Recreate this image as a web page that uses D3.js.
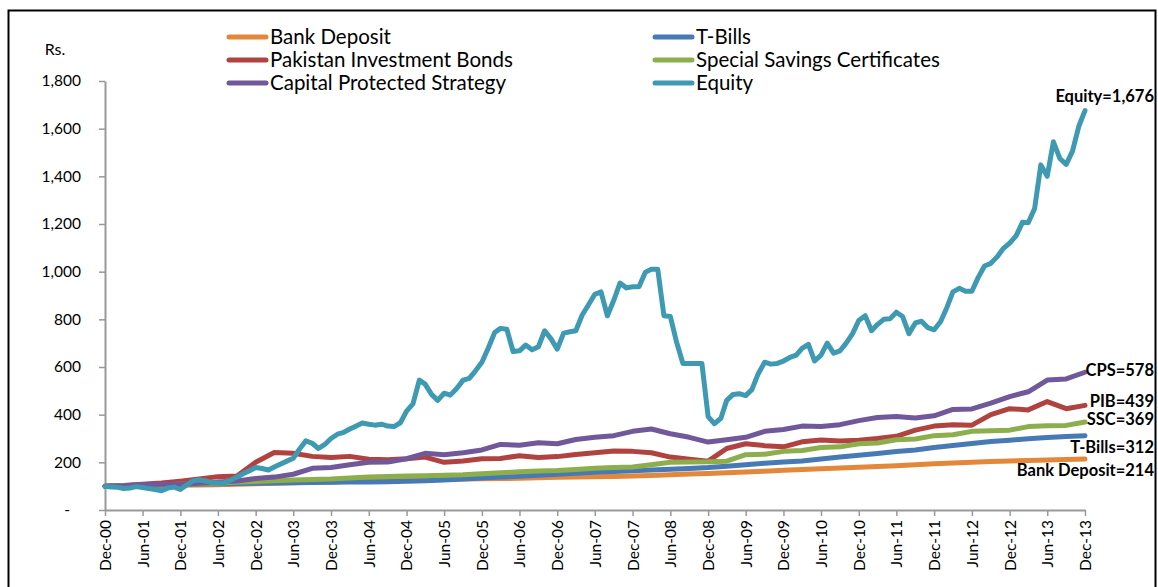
<!DOCTYPE html>
<html>
<head>
<meta charset="utf-8">
<script src="https://cdn.jsdelivr.net/npm/d3@7"></script>
<style>
  body { margin: 0; background: #fff; }
  svg { display: block; font-family: Lato, "Open Sans", sans-serif; }
</style>
</head>
<body>
<svg width="1158" height="587"></svg>
<script>
// months are counted from Dec-00; equity is monthly, the other series quarterly
const startDate = new Date(2000, 11, 1);
const monthDates = d3.range(157).map(i => d3.timeMonth.offset(startDate, i));
const quarterDates = d3.range(0, 157, 3).map(i => d3.timeMonth.offset(startDate, i));
const tickDates = d3.range(0, 157, 6).map(i => d3.timeMonth.offset(startDate, i));
const yTicks = [0, 200, 400, 600, 800, 1000, 1200, 1400, 1600, 1800];

const bankDeposit = [100, 101, 102, 103, 104, 105, 106, 108, 110, 112, 114, 116, 118, 121, 123, 124, 125, 126,
  128, 130, 131, 132, 133, 135, 137, 138, 140, 141, 143, 145, 148, 151, 153, 156, 159, 163, 167, 170, 173,
  176, 179, 182, 186, 190, 194, 197, 200, 203, 206, 208, 210, 212, 214];
const tBills = [100, 102, 104, 105, 107, 109, 110, 111, 112, 113, 114, 115, 116, 117, 118, 119, 121, 123,
  126, 130, 134, 138, 142, 146, 150, 154, 158, 162, 165, 168, 171, 174, 178, 184, 190, 196, 201, 206, 214,
  222, 230, 237, 245, 252, 262, 271, 279, 287, 293, 299, 304, 308, 312];
const pib = [100, 103, 108, 113, 121, 130, 140, 143, 200, 241, 238, 225, 220, 225, 213, 211, 215, 222,
  200, 206, 215, 216, 228, 220, 224, 233, 240, 248, 246, 240, 222, 213, 205, 258, 278, 270, 265, 286, 294,
  290, 293, 300, 309, 335, 352, 358, 356, 400, 425, 420, 455, 425, 439];
const ssc = [100, 102, 104, 106, 108, 110, 113, 116, 120, 123, 126, 128, 130, 134, 138, 141, 143, 144,
  146, 148, 152, 156, 160, 164, 166, 170, 175, 178, 180, 190, 200, 201, 202, 205, 232, 234, 246, 250, 262,
  265, 278, 281, 295, 298, 312, 316, 330, 333, 335, 350, 353, 355, 369];
const cps = [100, 102, 107, 108, 108, 112, 117, 122, 132, 138, 150, 175, 178, 190, 200, 201, 215, 238,
  232, 240, 252, 275, 272, 282, 278, 296, 305, 312, 330, 340, 320, 305, 285, 295, 305, 330, 338, 352, 350,
  358, 375, 388, 392, 386, 395, 422, 424, 448, 476, 496, 545, 550, 578];
const equity = [100, 96, 95, 90, 92, 98, 94, 90, 86, 81, 92, 96, 86, 105, 123, 127, 122, 115, 113, 114,
  125, 138, 152, 165, 178, 174, 168, 180, 193, 205, 217, 255, 290, 280, 258, 275, 300, 318, 326, 340,
  352, 365, 360, 356, 360, 352, 350, 366, 415, 445, 545, 528, 485, 460, 490, 482, 510, 545, 552, 585,
  620, 680, 745, 762, 758, 665, 668, 692, 672, 685, 752, 718, 675, 742, 748, 752, 818, 860, 905, 915,
  815, 880, 952, 932, 937, 937, 998, 1010, 1010, 815, 812, 705, 615, 615, 615, 615, 392, 362, 385, 460,
  485, 488, 480, 505, 572, 620, 612, 615, 625, 640, 650, 678, 695, 625, 650, 700, 658, 668, 700, 740,
  795, 815, 752, 778, 800, 802, 830, 812, 740, 785, 792, 765, 756, 790, 850, 915, 930, 918, 918, 975,
  1024, 1035, 1062, 1098, 1120, 1150, 1207, 1205, 1265, 1448, 1400, 1545, 1475, 1450, 1505, 1610, 1676];

const seriesNames = ['Bank Deposit', 'T-Bills', 'Pakistan Investment Bonds',
  'Special Savings Certificates', 'Capital Protected Strategy', 'Equity'];
const endLabels = ['Bank Deposit=214', 'T-Bills=312', 'PIB=439', 'SSC=369', 'CPS=578', 'Equity=1,676'];
const colors = ['#E3883A', '#4779B5', '#B0423F', '#8DAE4C', '#71589A', '#3E9AB3'];

const series = [
  { name: seriesNames[0], dates: quarterDates, values: bankDeposit, color: colors[0], label: endLabels[0], ly: 470 },
  { name: seriesNames[1], dates: quarterDates, values: tBills, color: colors[1], label: endLabels[1], ly: 447 },
  { name: seriesNames[2], dates: quarterDates, values: pib, color: colors[2], label: endLabels[2], ly: 401 },
  { name: seriesNames[3], dates: quarterDates, values: ssc, color: colors[3], label: endLabels[3], ly: 419 },
  { name: seriesNames[4], dates: quarterDates, values: cps, color: colors[4], label: endLabels[4], ly: 370 },
  { name: seriesNames[5], dates: monthDates, values: equity, color: colors[5], label: endLabels[5], ly: 96 }
];

const svg = d3.select('svg');

// outer frame of the chart
svg.append('rect')
  .attr('x', 8.5).attr('y', 10.5)
  .attr('width', 1147).attr('height', 590)
  .attr('fill', 'none').attr('stroke', '#000').attr('stroke-width', 2);

const x = d3.scaleTime()
  .domain([startDate, monthDates[monthDates.length - 1]])
  .range([105, 1085]);
const y = d3.scaleLinear().domain([0, 1800]).range([510, 81]);

// y axis
const yAxis = svg.append('g')
  .attr('transform', 'translate(105,0)')
  .call(d3.axisLeft(y).tickValues(yTicks).tickSize(6).tickSizeOuter(0).tickPadding(18)
    .tickFormat(d => d === 0 ? '-' : d3.format(',')(d)));
yAxis.select('.domain').attr('stroke', '#999').attr('stroke-width', 2);
yAxis.selectAll('.tick line').attr('stroke', '#999').attr('stroke-width', 1.5);
yAxis.selectAll('.tick text')
  .attr('font-size', 15.5).attr('fill', '#000').attr('font-family', 'Lato')
  .attr('dx', d => d === 0 ? -11 : 0);

svg.append('text')
  .attr('x', 55).attr('y', 55)
  .attr('text-anchor', 'middle')
  .attr('font-size', 16)
  .text('Rs.');

// x axis
const xAxis = svg.append('g')
  .attr('transform', 'translate(0,510)')
  .call(d3.axisBottom(x).tickValues(tickDates).tickSize(6).tickSizeOuter(0)
    .tickFormat(d3.timeFormat('%b-%y')));
xAxis.select('.domain').attr('stroke', '#999').attr('stroke-width', 2);
xAxis.selectAll('.tick line').attr('stroke', '#999').attr('stroke-width', 1.5);
xAxis.selectAll('.tick text')
  .attr('font-size', 15.5).attr('fill', '#000').attr('font-family', 'Lato')
  .attr('text-anchor', 'end')
  .attr('transform', 'rotate(-90)')
  .attr('x', -10).attr('y', 0).attr('dy', '0.35em');

// lines
const line = d3.line()
  .x(d => x(d[0]))
  .y(d => y(d[1]));

svg.append('g').selectAll('path')
  .data(series)
  .join('path')
  .attr('d', s => line(s.dates.map((dt, i) => [dt, s.values[i]])))
  .attr('fill', 'none')
  .attr('stroke', s => s.color)
  .attr('stroke-width', 5)
  .attr('stroke-linejoin', 'round')
  .attr('stroke-linecap', 'round');

// end labels
svg.append('g').selectAll('text')
  .data(series)
  .join('text')
  .attr('x', 1154)
  .attr('y', s => s.ly)
  .attr('dy', '0.35em')
  .attr('text-anchor', 'end')
  .attr('font-size', 16.5)
  .attr('font-weight', 'bold')
  .text(s => s.label);

// legend, two columns of three rows
const legend = svg.append('g').selectAll('g')
  .data(series)
  .join('g')
  .attr('transform', (s, i) => `translate(${i % 2 === 0 ? 229 : 655},${37 + Math.floor(i / 2) * 23})`);
legend.append('line')
  .attr('x1', 0).attr('x2', 37)
  .attr('stroke', s => s.color)
  .attr('stroke-width', 5)
  .attr('stroke-linecap', 'round');
legend.append('text')
  .attr('x', 41)
  .attr('dy', '0.35em')
  .attr('font-size', 20.5)
  .text(s => s.name);
</script>
</body>
</html>
